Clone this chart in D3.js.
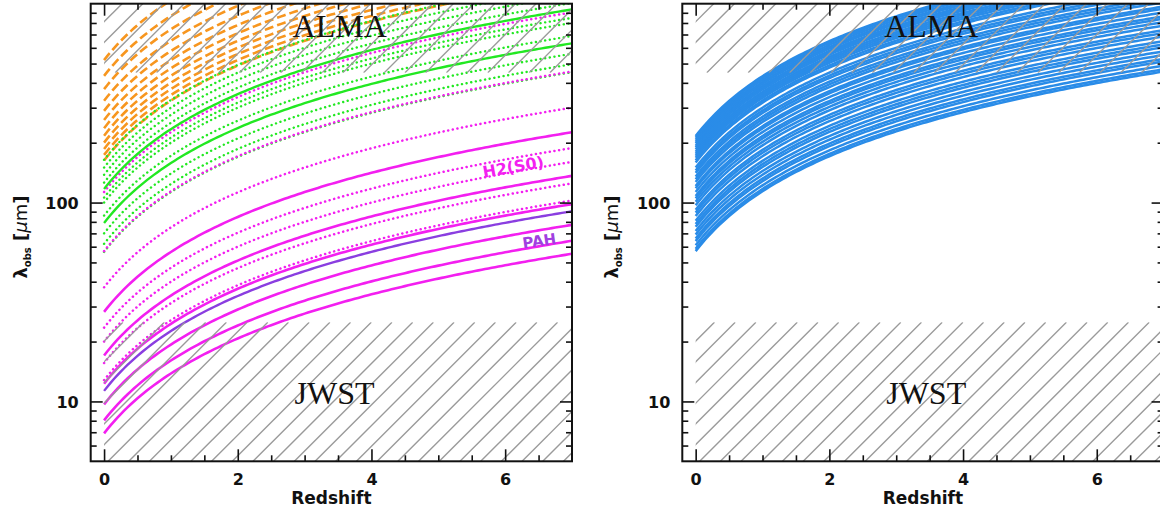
<!DOCTYPE html>
<html><head><meta charset="utf-8">
<script src="https://cdn.jsdelivr.net/npm/d3@7"></script>
<style>body{margin:0;background:#fff;overflow:hidden}</style>
</head><body><svg id="c" width="1160" height="517"></svg>
<script>
// ---------- data (rest-frame wavelengths, micron) ----------
const redshiftDomain = [-0.2, 7];
const wavelengthDomain = [5, 1000];
const redshiftMajorTicks = [0, 2, 4, 6];
const redshiftMinorTicks = [0.5, 1, 1.5, 2.5, 3, 3.5, 4.5, 5, 5.5, 6.5];
const wavelengthMajorTicks = [10, 100];
const wavelengthTickLabels = ["10", "100"];
const wavelengthMinorTicks = [6, 7, 8, 9, 20, 30, 40, 50, 60, 70, 80, 90, 200, 300, 400, 500, 600, 700, 800, 900];

const h2Solid = [28.22, 17.03, 12.28, 9.66, 8.03, 6.91];          // magenta solid
const pahSolid = [11.3];                                          // purple
const magentaDotted = [12.8, 15.6, 20.0, 23.5, 37.5, 57.0, 113.0];
const greenSolid = [117, 79];
const greenDotted = [56.5, 62, 70, 86, 100, 106, 126, 138, 150, 164];
const orangeDashed = [520.2, 433.6, 371.7, 325.2, 289.1, 260.2, 236.6, 216.9, 200.3, 186.0, 173.6, 162.8];
const blueSolid = [216, 212, 207, 202, 198, 193, 189, 185, 180, 176, 172, 168, 163, 159,
                   150, 145, 141, 135, 131, 127, 121, 118, 113, 108, 105, 101, 97, 92, 89,
                   85.5, 81, 78, 75.5, 72, 69, 66, 64, 61, 58.5, 57];
const almaBand = [450, 1000];
const jwstBand = [5, 25];
const hatchZ = [0, 7];
const labelH2 = {text: "H2(S0)", z: 6.12, lam: 151, rot: -10};
const labelPAH = {text: "PAH", z: 6.51, lam: 64.2, rot: -8};
const zSamples = d3.range(0, 7.0001, 0.05);

// ---------- layout ----------
const svg = d3.select("#c");
const Y0 = 3.7, Y1 = 461.3;
const panels = [{x0: 90.7, x1: 572, id: "L"}, {x0: 682.3, x1: 1163.6, id: "R"}];

const C = {mag: "#f31ff0", green: "#22e822", orange: "#f7961f", purple: "#8a3ee0", blue: "#2a8ce8", hatch: "#9a9a9a"};

function drawPanel(p, series, labels) {
  const x = d3.scaleLinear().domain(redshiftDomain).range([p.x0, p.x1]);
  const y = d3.scaleLog().domain(wavelengthDomain).range([Y1, Y0]);
  const g = svg.append("g");
  const clipId = "clip" + p.id;
  svg.append("clipPath").attr("id", clipId).append("rect")
    .attr("x", p.x0).attr("y", Y0).attr("width", p.x1 - p.x0).attr("height", Y1 - Y0);
  const plot = g.append("g").attr("clip-path", `url(#${clipId})`);
  const line = d3.line().x(d => x(d[0])).y(d => y(d[1]));

  series.forEach(s => {
    s.values.forEach(lam => {
      const pts = zSamples.map(z => [z, lam * (1 + z)]);
      plot.append("path").attr("d", line(pts)).attr("fill", "none")
        .attr("stroke", s.color).attr("stroke-width", s.width)
        .attr("stroke-dasharray", s.dash || null)
        .attr("stroke-linecap", s.cap || "butt");
    });
  });

  // hatched regions
  function hatch(band, phase) {
    const rx0 = x(hatchZ[0]), rx1 = x(hatchZ[1]);
    const ry0 = y(band[1]), ry1 = y(band[0]);
    const cid = clipId + "h" + band[0];
    svg.append("clipPath").attr("id", cid).append("rect")
      .attr("x", rx0).attr("y", ry0).attr("width", rx1 - rx0).attr("height", ry1 - ry0);
    const hg = plot.append("g").attr("clip-path", `url(#${cid})`);
    const step = 20.7;
    const cMin = rx0 + ry0, cMax = rx1 + ry1;
    for (let c = cMin + phase - step * 2; c < cMax + step; c += step) {
      hg.append("line").attr("x1", c - ry1).attr("y1", ry1).attr("x2", c - ry0).attr("y2", ry0)
        .attr("stroke", C.hatch).attr("stroke-width", 1.4);
    }
  }
  hatch(almaBand, 18);
  hatch(jwstBand, (x(0) + y(jwstBand[0]) + 4 - (x(0) + y(jwstBand[1]))) % 20.7);

  // region labels
  g.append("text").attr("x", x(2.82)).attr("y", 37).text("ALMA")
    .attr("font-family", "Liberation Serif").attr("font-size", 32).attr("fill", "#111");
  g.append("text").attr("x", x(2.85)).attr("y", 404).text("JWST")
    .attr("font-family", "Liberation Serif").attr("font-size", 32).attr("fill", "#111");

  labels.forEach(l => {
    g.append("text").attr("transform", `translate(${x(l.z)},${y(l.lam)}) rotate(${l.rot})`)
      .attr("text-anchor", "middle").attr("dy", "0.35em").text(l.text)
      .attr("font-family", "DejaVu Sans").attr("font-weight", "bold").attr("font-size", l.size)
      .attr("fill", l.color);
  });

  // axes
  const font = ax => ax.selectAll("text").attr("font-family", "DejaVu Sans").attr("font-weight", "bold")
    .attr("font-size", 16).attr("fill", "#111");
  const style = (sel, w) => { sel.select(".domain").remove(); sel.selectAll("line").attr("stroke", "#111").attr("stroke-width", w); };

  const b = g.append("g").attr("transform", `translate(0,${Y1})`)
    .call(d3.axisBottom(x).tickValues(redshiftMajorTicks).tickSize(-12).tickSizeOuter(0).tickPadding(12).tickFormat(d3.format("d")));
  style(b, 1.6); font(b);
  const bm = g.append("g").attr("transform", `translate(0,${Y1})`)
    .call(d3.axisBottom(x).tickValues(redshiftMinorTicks).tickSize(-6).tickSizeOuter(0).tickFormat(""));
  style(bm, 1.6);
  const t = g.append("g").attr("transform", `translate(0,${Y0})`)
    .call(d3.axisTop(x).tickValues(redshiftMajorTicks).tickSize(-12).tickSizeOuter(0).tickFormat(""));
  style(t, 1.6);
  const tm = g.append("g").attr("transform", `translate(0,${Y0})`)
    .call(d3.axisTop(x).tickValues(redshiftMinorTicks).tickSize(-6).tickSizeOuter(0).tickFormat(""));
  style(tm, 1.6);

  const l = g.append("g").attr("transform", `translate(${p.x0},0)`)
    .call(d3.axisLeft(y).tickValues(wavelengthMajorTicks).tickSize(-12).tickSizeOuter(0).tickPadding(12)
      .tickFormat((d, i) => wavelengthTickLabels[i]));
  style(l, 1.6); font(l);
  l.selectAll("text").attr("dy", "0.36em");
  const lm = g.append("g").attr("transform", `translate(${p.x0},0)`)
    .call(d3.axisLeft(y).tickValues(wavelengthMinorTicks).tickSize(-6).tickSizeOuter(0).tickFormat(""));
  style(lm, 1.6);
  const r = g.append("g").attr("transform", `translate(${p.x1},0)`)
    .call(d3.axisRight(y).tickValues(wavelengthMajorTicks).tickSize(-12).tickSizeOuter(0).tickFormat(""));
  style(r, 1.6);
  const rm = g.append("g").attr("transform", `translate(${p.x1},0)`)
    .call(d3.axisRight(y).tickValues(wavelengthMinorTicks).tickSize(-6).tickSizeOuter(0).tickFormat(""));
  style(rm, 1.6);

  g.append("rect").attr("x", p.x0).attr("y", Y0).attr("width", p.x1 - p.x0).attr("height", Y1 - Y0)
    .attr("fill", "none").attr("stroke", "#111").attr("stroke-width", 2);

  // axis titles
  g.append("text").attr("x", (p.x0 + p.x1) / 2).attr("y", 504).attr("text-anchor", "middle")
    .text("Redshift").attr("font-family", "DejaVu Sans").attr("font-weight", "bold").attr("font-size", 17).attr("fill", "#111");
  const yl = g.append("text").attr("transform", `translate(${p.x0 - 64},237) rotate(-90)`)
    .attr("text-anchor", "middle").attr("font-family", "DejaVu Sans").attr("font-weight", "bold")
    .attr("font-size", 18).attr("fill", "#111");
  yl.append("tspan").text("λ");
  yl.append("tspan").attr("font-size", 10).attr("dy", 4).text("obs");
  yl.append("tspan").attr("dy", -4).text(" [");
  yl.append("tspan").attr("font-style", "italic").attr("font-weight", "normal").text("μ");
  yl.append("tspan").attr("font-weight", "normal").text("m");
  yl.append("tspan").text("]");
}

const dot = "0.1,4.6";
drawPanel(panels[0], [
  {values: orangeDashed, color: C.orange, width: 2.6, dash: "9,4"},
  {values: greenDotted, color: C.green, width: 2.4, dash: dot, cap: "round"},
  {values: magentaDotted, color: C.mag, width: 2.5, dash: dot, cap: "round"},
  {values: greenSolid, color: C.green, width: 2.4},
  {values: h2Solid, color: C.mag, width: 2.6},
  {values: pahSolid, color: C.purple, width: 2.4}
], [
  Object.assign({}, labelH2, {color: C.mag, size: 16}),
  Object.assign({}, labelPAH, {color: "#a040e0", size: 15})
]);
drawPanel(panels[1], [
  {values: blueSolid, color: C.blue, width: 2.5}
], []);
</script></body></html>
